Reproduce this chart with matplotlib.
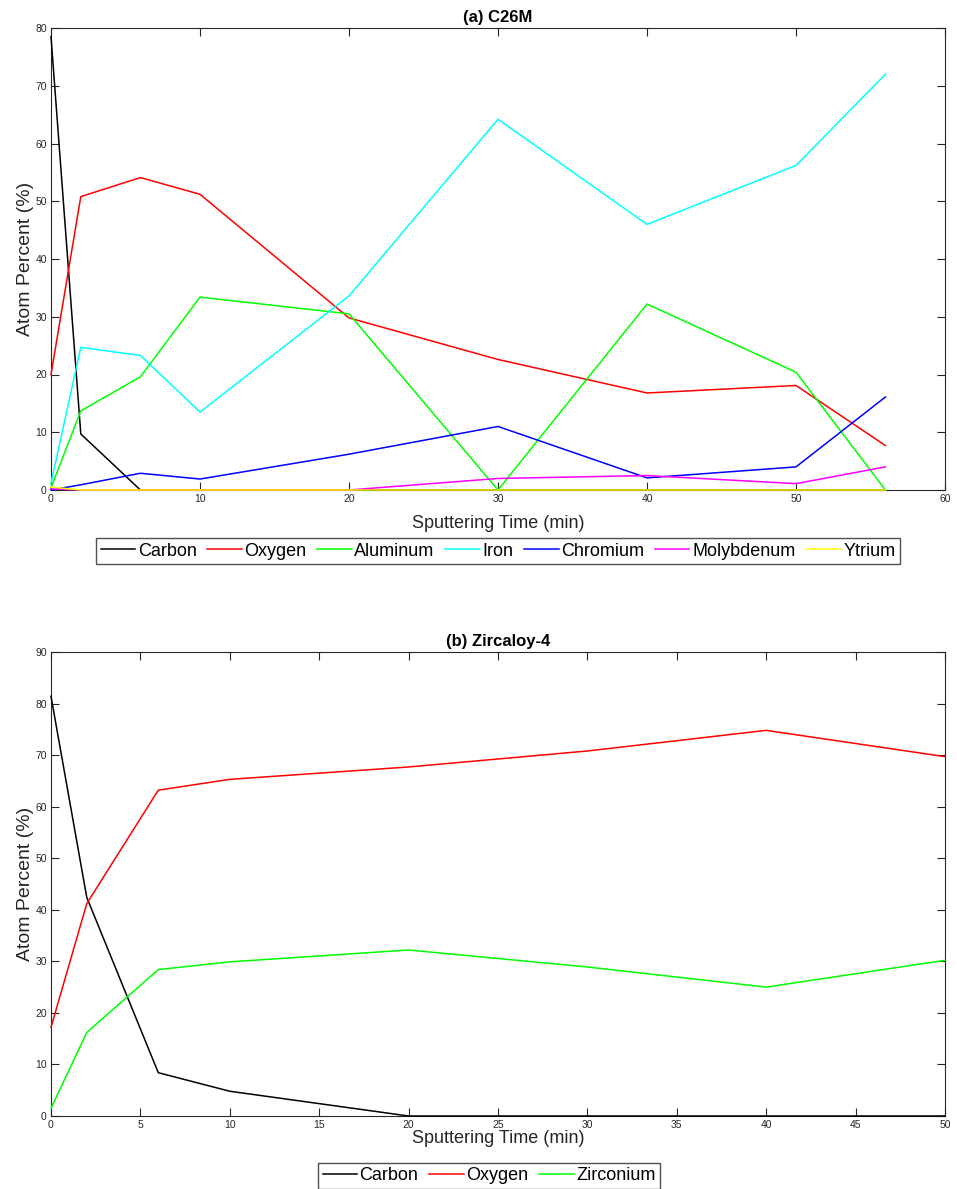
import matplotlib.pyplot as plt

plt.rcParams['font.family'] = ['Liberation Sans', 'DejaVu Sans']

# C26M depth profile
time_a = [0, 2, 6, 10, 20, 30, 40, 50, 56]
carbon_a = [78.5, 9.7, 0, 0, 0, 0, 0, 0, 0]
oxygen_a = [20.0, 50.8, 54.1, 51.2, 29.8, 22.6, 16.8, 18.1, 7.7]
aluminum_a = [0.4, 13.7, 19.6, 33.4, 30.5, 0, 32.2, 20.4, 0]
iron_a = [1.2, 24.7, 23.3, 13.5, 33.6, 64.2, 46.0, 56.2, 72.0]
chromium_a = [0, 0.9, 2.9, 1.9, 6.2, 11.0, 2.1, 4.0, 16.1]
molybdenum_a = [0.2, 0, 0, 0, 0, 2.0, 2.5, 1.1, 4.0]
ytrium_a = [0.5, 0, 0, 0, 0, 0, 0, 0, 0]

# Zircaloy-4 depth profile
time_b = [0, 2, 6, 10, 20, 30, 40, 50]
carbon_b = [81.4, 42.4, 8.4, 4.8, 0, 0, 0, 0]
oxygen_b = [17.2, 41.2, 63.2, 65.3, 67.7, 70.8, 74.8, 69.7]
zirconium_b = [1.5, 16.2, 28.4, 29.9, 32.2, 28.9, 25.0, 30.2]

series_a = [
    ('Carbon', carbon_a, 'black'),
    ('Oxygen', oxygen_a, 'red'),
    ('Aluminum', aluminum_a, '#00ff00'),
    ('Iron', iron_a, 'cyan'),
    ('Chromium', chromium_a, 'blue'),
    ('Molybdenum', molybdenum_a, 'magenta'),
    ('Ytrium', ytrium_a, 'yellow'),
]
series_b = [
    ('Carbon', carbon_b, 'black'),
    ('Oxygen', oxygen_b, 'red'),
    ('Zirconium', zirconium_b, '#00ff00'),
]

W, H = 957, 1189
fig = plt.figure(figsize=(W / 100, H / 100), dpi=100)


def box(x0, y0, x1, y1):
    return [x0 / W, 1 - y1 / H, (x1 - x0) / W, (y1 - y0) / H]


def style(ax, title, xmax, ymax, xstep, ystep, xpad):
    ax.set_xlim(0, xmax)
    ax.set_ylim(0, ymax)
    ax.set_xticks(range(0, xmax + 1, xstep))
    ax.set_yticks(range(0, ymax + 1, ystep))
    ax.tick_params(direction='in', top=True, right=True, labelsize=7.5,
                   colors='#262626', length=6, width=0.8, pad=3)
    for s in ax.spines.values():
        s.set_color('#262626')
        s.set_linewidth(0.8)
    ax.set_title(title, fontsize=12, fontweight='bold', pad=4)
    ax.set_xlabel('Sputtering Time (min)', fontsize=13, color='#262626', labelpad=xpad)
    ax.set_ylabel('Atom Percent (%)', fontsize=14, color='#262626', labelpad=1)


def add_legend(ax, ncol, x, y):
    ax.legend(loc='upper center', bbox_to_anchor=(x, y), ncol=ncol, fontsize=13,
              frameon=True, fancybox=False, edgecolor='#262626', handlelength=1.9,
              handletextpad=0.15, columnspacing=0.6, borderpad=0.25, borderaxespad=0)


ax1 = fig.add_axes(box(51, 28, 945, 490))
for name, vals, c in series_a:
    ax1.plot(time_a, vals, color=c, lw=1.1, label=name, zorder=3, clip_on=False)
style(ax1, '(a) C26M', 60, 80, 10, 10, 8)
add_legend(ax1, 7, 0.5, -0.104)

ax2 = fig.add_axes(box(51, 652, 945, 1116))
for name, vals, c in series_b:
    ax2.plot(time_b, vals, color=c, lw=1.1, label=name, zorder=3, clip_on=False)
style(ax2, '(b) Zircaloy-4', 50, 90, 5, 10, 0)
add_legend(ax2, 3, 0.49, -0.101)

fig.savefig('out.png', dpi=100)
